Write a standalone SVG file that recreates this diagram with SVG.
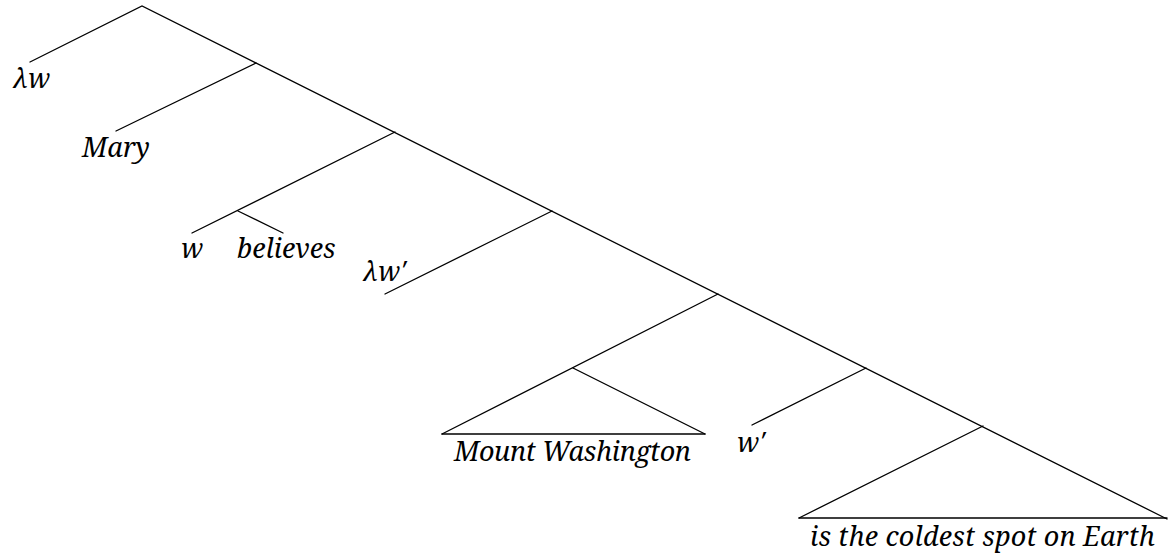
<svg xmlns="http://www.w3.org/2000/svg" width="1168" height="553" viewBox="0 0 1168 553">
<style>
.e{stroke:#000;stroke-width:1.3;fill:none;stroke-linecap:round}
.t{font-family:"Noto Serif",serif;font-style:italic;font-size:27px;fill:#000}
</style>
<rect width="1168" height="553" fill="#fff"/>
<g id="connectors">
<polyline class="e" points="30,62 142,6 1167,519"/>
<line class="e" x1="256" y1="63" x2="116" y2="131"/>
<line class="e" x1="395" y1="132" x2="192" y2="233"/>
<line class="e" x1="238" y1="211" x2="283" y2="233"/>
<line class="e" x1="552" y1="211" x2="385" y2="294"/>
<line class="e" x1="718" y1="294" x2="442" y2="434"/>
<line class="e" x1="573" y1="368" x2="705" y2="434"/>
<line class="e" x1="442" y1="434" x2="705" y2="434"/>
<line class="e" x1="866" y1="368" x2="752" y2="425"/>
<line class="e" x1="983" y1="426" x2="799" y2="518"/>
<line class="e" x1="799" y1="518" x2="1167" y2="518"/>
</g>
<g id="n-lw"><text class="t" x="13" y="88">λw</text></g>
<g id="n-mary"><text class="t" x="82" y="157">Mary</text></g>
<g id="n-w"><text class="t" x="181" y="258">w</text></g>
<g id="n-believes"><text class="t" x="237" y="258">believes</text></g>
<g id="n-lw2"><text class="t" x="363" y="281">λw′</text></g>
<g id="n-mw"><text class="t" x="454" y="461" textLength="237">Mount Washington</text></g>
<g id="n-w2"><text class="t" x="737" y="452">w′</text></g>
<g id="n-earth"><text class="t" x="810" y="546" textLength="345">is the coldest spot on Earth</text></g>
</svg>
